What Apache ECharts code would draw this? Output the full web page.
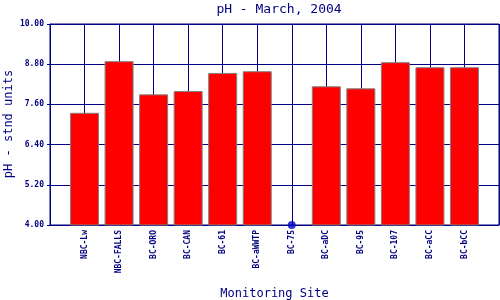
<!DOCTYPE html>
<html>
<head>
<meta charset="utf-8">
<script src="https://cdn.jsdelivr.net/npm/echarts@6/dist/echarts.min.js"></script>
<style>html,body{margin:0;padding:0;background:#fff}#c{width:500px;height:300px}</style>
</head>
<body>
<div id="c"></div>
<script>
var sites = ['NBC-Lw','NBC-FALLS','BC-ORO','BC-CAN','BC-61','BC-aWWTP','BC-75','BC-aDC','BC-95','BC-107','BC-aCC','BC-bCC'];
var phValues = [7.35, 8.89, 7.90, 8.00, 8.54, 8.59, 4.00, 8.14, 8.08, 8.86, 8.71, 8.71];
var yTicks = ['4.00','5.20','6.40','7.60','8.80','10.00'];
var titleText = 'pH - March, 2004';
var yName = 'pH - stnd units';
var xName = 'Monitoring Site';

var navy = '#000080';
var mono = 'DejaVu Sans Mono';
var cats = [''].concat(sites).concat(['']);
var barData = [null].concat(phValues.map(function(v){ return v > 4 ? v : null; })).concat([null]);
var dotData = [null].concat(phValues.map(function(v){ return v <= 4 ? v : null; })).concat([null]);

var chart = echarts.init(document.getElementById('c'), null, {renderer:'canvas'});
chart.setOption({
  animation: false,
  backgroundColor: '#fff',
  title: {
    text: titleText, left: 274, top: -2, textAlign: 'center',
    textStyle: {color: navy, fontFamily: mono, fontSize: 13, fontWeight: 'normal'}
  },
  graphic: [{
    type: 'text', x: 9, y: 124, rotation: Math.PI / 2,
    style: {text: yName, fill: navy, font: '12px "DejaVu Sans Mono"', align: 'center', verticalAlign: 'middle'}
  }],
  grid: {left: 50, right: 1, top: 24, bottom: 75, containLabel: false, outerBoundsMode: 'none',
         show: true, borderColor: navy, borderWidth: 1, backgroundColor: 'transparent'},
  xAxis: {
    type: 'category', data: cats, boundaryGap: false,
    name: xName, nameLocation: 'middle', nameGap: 63,
    nameTextStyle: {color: navy, fontFamily: mono, fontSize: 12},
    axisLine: {lineStyle: {color: navy, width: 1}},
    axisTick: {show: false},
    axisLabel: {rotate: 90, interval: 0, color: navy, fontFamily: mono, fontSize: 8, fontWeight: 'bold', margin: 5},
    splitLine: {show: true, lineStyle: {color: navy, width: 1}}
  },
  yAxis: {
    type: 'value', min: 4, max: 10, interval: 1.2,
    axisLine: {show: true, lineStyle: {color: navy, width: 1}},
    axisTick: {show: true, length: 3, lineStyle: {color: navy}},
    axisLabel: {color: navy, fontFamily: mono, fontSize: 8, fontWeight: 'bold', margin: 6,
      formatter: function(v){ var i = Math.round((v-4)/1.2); return yTicks[i] !== undefined ? yTicks[i] : v.toFixed(2); }},
    splitLine: {show: true, lineStyle: {color: navy, width: 1}}
  },
  series: [
    {type: 'bar', data: barData, barWidth: 29,
     itemStyle: {color: '#ff0000', borderColor: '#808080', borderWidth: 1}},
    {type: 'scatter', data: dotData, symbol: 'circle', symbolSize: 8,
     itemStyle: {color: '#0000cc'}, z: 5, clip: false}
  ]
});
</script>
</body>
</html>
